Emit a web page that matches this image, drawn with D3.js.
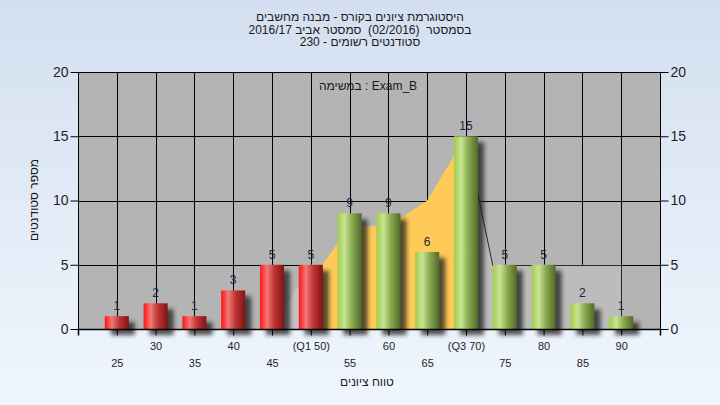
<!DOCTYPE html>
<html>
<head>
<meta charset="utf-8">
<script src="https://cdn.jsdelivr.net/npm/d3@7"></script>
<style>
  html, body { margin: 0; padding: 0; width: 720px; height: 405px; overflow: hidden; }
  svg { display: block; font-family: "Liberation Sans", Arial, "DejaVu Sans", sans-serif; }
  .pre { white-space: pre; }
</style>
</head>
<body>
<svg id="chart" width="720" height="405"></svg>
<script>
// ---------- data ----------
const binValues = [25, 30, 35, 40, 45, 50, 55, 60, 65, 70, 75, 80, 85, 90];
const binLabels = ["25", "30", "35", "40", "45", "(Q1 50)", "55", "60", "65", "(Q3 70)", "75", "80", "85", "90"];
const counts    = [1, 2, 1, 3, 5, 5, 9, 9, 6, 15, 5, 5, 2, 1];
const q1Value = 50;
const yTickValues = [0, 5, 10, 15, 20];

// band (IQR) area and tails
const iqrX   = [50, 51.5, 55, 60, 65, 70];
const iqrY   = [5, 5, 8, 8, 10, 15];
const leftX  = [45, 50];
const leftY  = [0, 5];
const rightX = [70, 73.45, 90];
const rightY = [15, 5, 5];

const titleLines = [
  "היסטוגרמת ציונים בקורס - מבנה מחשבים",
  "בסמסטר  (02/2016)  סמסטר אביב 2016/17",
  "סטודנטים רשומים - 230"
];
const innerLabel = "במשימה : Exam_B";
const xTitle = "טווח ציונים";
const yTitle = "מספר סטודנטים";

// ---------- layout ----------
const svg = d3.select("#chart");
const W = 720, H = 405;
const plot = { left: 78, right: 660, top: 72, bottom: 329 };

const x = d3.scaleLinear().domain([20, 95]).range([plot.left, plot.right]);
const y = d3.scaleLinear().domain([0, 20]).range([plot.bottom, plot.top]);
const barW = (x(30) - x(25)) * 0.62;

const defs = svg.append("defs");
const bg = defs.append("linearGradient").attr("id", "bg").attr("x1", 0).attr("y1", 0).attr("x2", 0).attr("y2", 1);
bg.append("stop").attr("offset", "0%").attr("stop-color", "#d3dff0");
bg.append("stop").attr("offset", "100%").attr("stop-color", "#f0f6fd");

function barGrad(id, stops) {
  const g = defs.append("linearGradient").attr("id", id).attr("x1", 0).attr("y1", 0).attr("x2", 1).attr("y2", 0);
  stops.forEach(([o, c]) => g.append("stop").attr("offset", o).attr("stop-color", c));
}
barGrad("gRed", [["0%", "#ff1414"], ["30%", "#f27878"], ["60%", "#c03434"], ["100%", "#7e1414"]]);
barGrad("gGreen", [["0%", "#a2cc4c"], ["30%", "#c8e494"], ["60%", "#8aaa50"], ["100%", "#52692a"]]);

const blur = defs.append("filter").attr("id", "shadow").attr("x", "-50%").attr("y", "-50%").attr("width", "200%").attr("height", "200%");
blur.append("feGaussianBlur").attr("stdDeviation", 2.2);

svg.append("rect").attr("width", W).attr("height", H).attr("fill", "url(#bg)");

// plot background
svg.append("rect")
  .attr("x", plot.left).attr("y", plot.top)
  .attr("width", plot.right - plot.left).attr("height", plot.bottom - plot.top)
  .attr("fill", "#b4b4b4");

// grid
const grid = svg.append("g").attr("stroke", "#000").attr("stroke-width", 1).attr("shape-rendering", "crispEdges");
grid.selectAll("line.h").data(yTickValues.slice(1, -1)).join("line")
  .attr("x1", plot.left).attr("x2", plot.right)
  .attr("y1", d => Math.round(y(d)) + 0.5).attr("y2", d => Math.round(y(d)) + 0.5);
grid.selectAll("line.v").data(binValues).join("line")
  .attr("x1", d => Math.round(x(d)) + 0.5).attr("x2", d => Math.round(x(d)) + 0.5)
  .attr("y1", plot.top).attr("y2", plot.bottom);

// areas
const area = d3.area().x(d => x(d[0])).y0(y(0)).y1(d => y(d[1]));
svg.append("path").datum(d3.zip(leftX, leftY)).attr("d", area).attr("fill", "#c2c2c2");
svg.append("path").datum(d3.zip(rightX, rightY)).attr("d", area).attr("fill", "#bcbcbc");
svg.append("path").datum(d3.zip(rightX, rightY))
  .attr("d", d3.line().x(d => x(d[0])).y(d => Math.round(y(d[1])) + 0.5))
  .attr("fill", "none").attr("stroke", "#2a2a2a").attr("stroke-width", 1);
svg.append("path").datum(d3.zip(iqrX, iqrY)).attr("d", area).attr("fill", "#ffca58");

// bars
const bars = d3.zip(binValues, counts);
svg.append("g").selectAll("rect").data(bars).join("rect")
  .attr("x", d => x(d[0]) - barW / 2 + 6).attr("y", d => y(d[1]) + 6)
  .attr("width", barW).attr("height", d => y(0) - y(d[1]))
  .attr("fill", "#1a1a1a").attr("opacity", 0.75).attr("filter", "url(#shadow)");
svg.append("g").selectAll("rect").data(bars).join("rect")
  .attr("x", d => x(d[0]) - barW / 2).attr("y", d => y(d[1]))
  .attr("width", barW).attr("height", d => y(0) - y(d[1]))
  .attr("fill", d => d[0] <= q1Value ? "url(#gRed)" : "url(#gGreen)");
svg.append("g").selectAll("text").data(bars).join("text")
  .attr("x", d => x(d[0])).attr("y", d => y(d[1]) - 6)
  .attr("text-anchor", "middle").attr("font-size", 12).attr("fill", "#1c2440")
  .text(d => d[1]);

// frame
svg.append("rect")
  .attr("x", plot.left + 0.5).attr("y", plot.top + 0.5)
  .attr("width", plot.right - plot.left).attr("height", plot.bottom - plot.top)
  .attr("fill", "none").attr("stroke", "#000").attr("shape-rendering", "crispEdges");

// axes
const yl = svg.append("g").attr("transform", `translate(${plot.left + 0.5},0)`)
  .call(d3.axisLeft(y).tickValues(yTickValues).tickSize(8).tickPadding(2));
const yr = svg.append("g").attr("transform", `translate(${plot.right + 0.5},0)`)
  .call(d3.axisRight(y).tickValues(yTickValues).tickSize(8).tickPadding(2));
[yl, yr].forEach(g => {
  g.select(".domain").remove();
  g.selectAll("line").attr("stroke", "#000");
  g.selectAll("text").attr("font-size", 14).attr("fill", "#1e1e1e").attr("font-family", "Liberation Sans, Arial, sans-serif");
});

const xb = svg.append("g").attr("transform", `translate(0,${plot.bottom + 0.5})`)
  .call(d3.axisBottom(x).tickValues(binValues).tickSize(6).tickFormat((d, i) => binLabels[i]));
xb.select(".domain").attr("d", `M${plot.left + 0.5},6V0H${plot.right + 0.5}V6`).attr("stroke", "#000").attr("stroke-width", 1.5);
xb.selectAll("line").attr("stroke", "#000");
xb.selectAll("text")
  .attr("font-size", 11).attr("fill", "#1e1e1e").attr("font-family", "Liberation Sans, Arial, sans-serif")
  .attr("dy", 0)
  .attr("y", (d, i) => i % 2 === 1 ? 20 : 37);

// titles
svg.append("g").selectAll("text").data(titleLines).join("text")
  .attr("class", "pre")
  .attr("x", 360).attr("y", (d, i) => 21 + i * 12.5)
  .attr("text-anchor", "middle").attr("font-size", 12).attr("fill", "#1a1a1a")
  .text(d => d);

svg.append("text").attr("x", 368).attr("y", 90).attr("text-anchor", "middle")
  .attr("font-size", 12).attr("fill", "#1a1a1a").text(innerLabel);

svg.append("text").attr("x", 367).attr("y", 386).attr("text-anchor", "middle")
  .attr("font-size", 12).attr("fill", "#1a1a1a").text(xTitle);

svg.append("text").attr("transform", "translate(38,200) rotate(-90)")
  .attr("text-anchor", "middle").attr("font-size", 12).attr("fill", "#1a1a1a").text(yTitle);
</script>
</body>
</html>
